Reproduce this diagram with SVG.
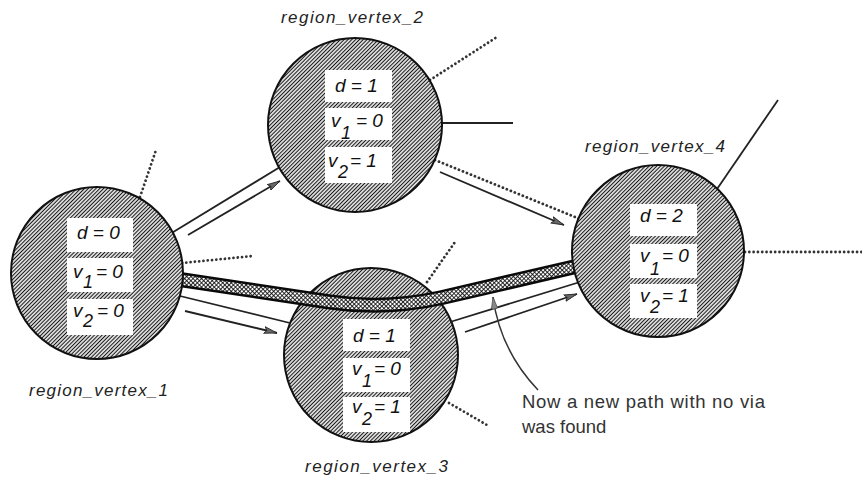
<svg xmlns="http://www.w3.org/2000/svg" width="862" height="479" viewBox="0 0 862 479">
  <defs>
    <!-- diagonal hatching for the region discs -->
    <pattern id="hatch" patternUnits="userSpaceOnUse" width="2.7" height="2.7" patternTransform="rotate(45)">
      <rect width="2.7" height="2.7" fill="#fff"/>
      <line x1="1.35" y1="0" x2="1.35" y2="2.7" stroke="#151515" stroke-width="1.2"/>
    </pattern>
    <!-- fine cross mesh for the found path -->
    <pattern id="mesh" patternUnits="userSpaceOnUse" width="3" height="3" patternTransform="rotate(45)">
      <rect width="3" height="3" fill="#fff"/>
      <line x1="0" y1="0" x2="3" y2="0" stroke="#0a0a0a" stroke-width="1.7"/>
      <line x1="0" y1="0" x2="0" y2="3" stroke="#0a0a0a" stroke-width="1.7"/>
    </pattern>
    <marker id="arrow" viewBox="0 0 13 8" refX="13" refY="4" markerWidth="13" markerHeight="8" markerUnits="userSpaceOnUse" orient="auto">
      <path d="M0,0.6 L13,4 L0,7.4 L2.5,4 Z" fill="#666" stroke="#222" stroke-width="0.8"/>
    </marker>
    <marker id="arrowGray" viewBox="0 0 12 8" refX="12" refY="4" markerWidth="12" markerHeight="8" markerUnits="userSpaceOnUse" orient="auto">
      <path d="M0,0.8 L12,4 L0,7.2 Z" fill="#888" stroke="#444" stroke-width="0.7"/>
    </marker>
  </defs>
  <style>
    .disc { fill: url(#hatch); stroke: #111; stroke-width: 2; }
    .box { fill: #fff; }
    .val { font-family: "Liberation Sans", Arial, sans-serif; font-style: italic; font-size: 19px; fill: #111; }
    .sub { font-size: 18px; }
    .name { font-family: "Liberation Sans", Arial, sans-serif; font-style: italic; font-size: 17px; fill: #222; }
    .note { font-family: "Liberation Sans", Arial, sans-serif; font-size: 18.5px; fill: #333; }
    .line { fill: none; stroke: #222; stroke-width: 1.8; }
    .arr { fill: none; stroke: #222; stroke-width: 1.8; marker-end: url(#arrow); }
    .dots { fill: none; stroke: #333; stroke-width: 2.8; stroke-linecap: round; stroke-dasharray: 0.01 4.3; }
  </style>
  <rect width="862" height="479" fill="#fff"/>

  <!-- region_vertex_3 lies under the found path -->
  <g id="region_vertex_3">
    <circle class="disc" cx="371" cy="355" r="87"/>
    <rect class="box" x="343" y="319" width="67" height="32"/>
    <rect class="box" x="343" y="358" width="67" height="34"/>
    <rect class="box" x="343" y="397" width="67" height="35"/>
    <text class="val" x="353" y="342">d = 1</text>
    <text class="val"><tspan x="352" y="375">v</tspan><tspan class="sub" x="362" y="387">1</tspan><tspan x="374" y="375">= 0</tspan></text>
    <text class="val"><tspan x="352" y="413">v</tspan><tspan class="sub" x="362" y="425">2</tspan><tspan x="374" y="413">= 1</tspan></text>
    <text class="name" x="305" y="472" textLength="143" lengthAdjust="spacing">region_vertex_3</text>
  </g>

  <g id="connectors">
    <!-- stubs to other regions -->
    <line class="dots" x1="140" y1="197" x2="156" y2="150"/>
    <line class="dots" x1="182" y1="263" x2="253" y2="256"/>
    <line class="dots" x1="427" y1="282" x2="455" y2="242"/>
    <line class="dots" x1="449" y1="403" x2="487" y2="425"/>
    <line class="dots" x1="430" y1="80" x2="497" y2="37"/>
    <line class="dots" x1="435" y1="160" x2="580" y2="219"/>
    <line class="dots" x1="745" y1="252" x2="862" y2="252"/>
    <line class="line" x1="440" y1="123" x2="513" y2="123"/>
    <line class="line" x1="715" y1="192" x2="778" y2="100"/>

    <!-- edges between regions -->
    <line class="line" x1="170" y1="234" x2="280" y2="167"/>
    <line class="arr" x1="188" y1="235" x2="280" y2="181"/>
    <line class="line" x1="180" y1="296" x2="290" y2="323"/>
    <line class="arr" x1="185" y1="311" x2="277" y2="333"/>
    <line class="line" x1="450" y1="322" x2="580" y2="282"/>
    <line class="arr" x1="465" y1="332" x2="577" y2="294"/>
    <line class="arr" x1="440" y1="172" x2="564" y2="225"/>

    <!-- the new path without via -->
    <path d="M180,279.5 L330,302 Q385,310 440,298 L578,266" fill="none" stroke="#0a0a0a" stroke-width="15"/>
    <path d="M180,279.5 L330,302 Q385,310 440,298 L578,266" fill="none" stroke="url(#mesh)" stroke-width="10"/>

    <!-- annotation pointer -->
    <path d="M538,390 Q500,350 493,297" fill="none" stroke="#333" stroke-width="1.5" marker-end="url(#arrowGray)"/>
  </g>

  <g id="region_vertex_1">
    <circle class="disc" cx="97" cy="273" r="86"/>
    <rect class="box" x="67" y="218" width="66" height="34"/>
    <rect class="box" x="67" y="258" width="66" height="34"/>
    <rect class="box" x="67" y="299" width="66" height="36"/>
    <text class="val" x="77" y="239">d = 0</text>
    <text class="val"><tspan x="73" y="278">v</tspan><tspan class="sub" x="83" y="288">1</tspan><tspan x="96" y="278">= 0</tspan></text>
    <text class="val"><tspan x="73" y="317">v</tspan><tspan class="sub" x="83" y="327">2</tspan><tspan x="97" y="317">= 0</tspan></text>
    <text class="name" x="29" y="396" textLength="139" lengthAdjust="spacing">region_vertex_1</text>
  </g>

  <g id="region_vertex_2">
    <circle class="disc" cx="355" cy="125" r="87"/>
    <rect class="box" x="325" y="70" width="67" height="32"/>
    <rect class="box" x="325" y="108" width="67" height="32"/>
    <rect class="box" x="325" y="147" width="67" height="36"/>
    <text class="val" x="335" y="92">d = 1</text>
    <text class="val"><tspan x="331" y="127">v</tspan><tspan class="sub" x="341" y="139">1</tspan><tspan x="356" y="127">= 0</tspan></text>
    <text class="val"><tspan x="328" y="167">v</tspan><tspan class="sub" x="338" y="178">2</tspan><tspan x="350" y="167">= 1</tspan></text>
    <text class="name" x="281" y="23" textLength="142" lengthAdjust="spacing">region_vertex_2</text>
  </g>

  <g id="region_vertex_4">
    <circle class="disc" cx="658" cy="251" r="86"/>
    <rect class="box" x="630" y="204" width="67" height="32"/>
    <rect class="box" x="630" y="244" width="67" height="34"/>
    <rect class="box" x="630" y="284" width="67" height="34"/>
    <text class="val" x="640" y="222">d = 2</text>
    <text class="val"><tspan x="640" y="262">v</tspan><tspan class="sub" x="650" y="275">1</tspan><tspan x="662" y="262">= 0</tspan></text>
    <text class="val"><tspan x="640" y="302">v</tspan><tspan class="sub" x="650" y="313">2</tspan><tspan x="662" y="302">= 1</tspan></text>
    <text class="name" x="585" y="152" textLength="140" lengthAdjust="spacing">region_vertex_4</text>
  </g>

  <g id="annotation">
    <text class="note" x="522" y="408" textLength="243" lengthAdjust="spacing">Now a new path with no via</text>
    <text class="note" x="522" y="433">was found</text>
  </g>
</svg>
